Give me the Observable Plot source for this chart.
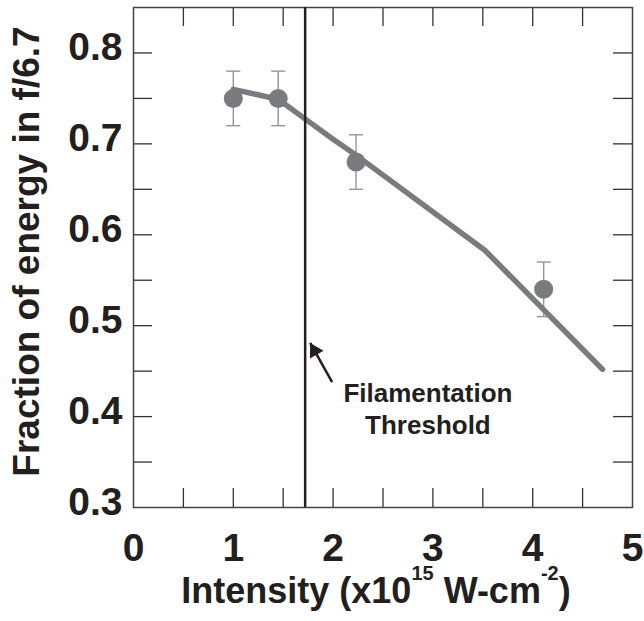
<!DOCTYPE html>
<html><head><meta charset="utf-8">
<script src="https://cdn.jsdelivr.net/npm/d3@7"></script>
<script src="https://cdn.jsdelivr.net/npm/@observablehq/plot@0.6"></script>
<style>body{margin:0;background:#fff} #chart svg{display:block}</style>
</head><body><div id="chart"></div>
<script>
// measured points with error bars
const pointIntensity = [1.0, 1.45, 2.23, 4.11];
const pointFraction  = [0.75, 0.75, 0.68, 0.54];
const pointErrLow    = [0.72, 0.72, 0.65, 0.51];
const pointErrHigh   = [0.78, 0.78, 0.71, 0.57];
// model curve
const curveIntensity = [1.0, 1.45, 1.75, 2.0, 2.25, 3.52, 4.7];
const curveFraction  = [0.76, 0.749, 0.725, 0.705, 0.686, 0.583, 0.452];
// threshold + annotation
const thresholdIntensity = [1.72];
const arrowFrom = [1.99, 0.438];
const arrowTo   = [1.77, 0.481];
const noteLines = ["Filamentation", "Threshold"];
const noteX = [2.95, 2.95];
const noteY = [0.425, 0.39];
// axes
const xTickLabels = [0, 1, 2, 3, 4, 5];
const yTickLabels = [0.3, 0.4, 0.5, 0.6, 0.7, 0.8];
const xMinorTicks = [0.5, 1, 1.5, 2, 2.5, 3, 3.5, 4, 4.5];
const yMinorTicks = [0.35, 0.4, 0.45, 0.5, 0.55, 0.6, 0.65, 0.7, 0.75, 0.8];
const xTitleParts = [
  {t: "Intensity (x10", sup: false},
  {t: "15", sup: true},
  {t: "\u00a0W-cm", sup: false},
  {t: "-2", sup: true},
  {t: ")", sup: false}
];
const yTitle = "Fraction of energy in f/6.7";

const points = pointIntensity.map((x, i) => ({x, y: pointFraction[i], lo: pointErrLow[i], hi: pointErrHigh[i]}));
const curve = curveIntensity.map((x, i) => ({x, y: curveFraction[i]}));
const notes = noteLines.map((t, i) => ({t, x: noteX[i], y: noteY[i]}));
const arrow = [{x1: arrowFrom[0], y1: arrowFrom[1], x2: arrowTo[0], y2: arrowTo[1]}];

const capSymbol = {draw(ctx, size) { const w = Math.sqrt(size / Math.PI); ctx.moveTo(-w, 0); ctx.lineTo(w, 0); }};

const W = 644, H = 621, mL = 133, mR = 12, mT = 7, mB = 114;
const plotH = H - mT - mB, plotW = W - mL - mR;
const ink = "#231f20", tickInk = "#333", gray = "#7a7b7e", errGray = "#959597";
const tickLen = 19;

const chart = Plot.plot({
  width: W, height: H,
  marginLeft: mL, marginRight: mR, marginTop: mT, marginBottom: mB,
  style: {fontFamily: "'Liberation Sans', Arial, Helvetica, sans-serif", color: ink, background: "#fff", overflow: "visible"},
  x: {domain: [0, 5], label: null},
  y: {domain: [0.3, 0.85], label: null},
  marks: [
    // inward ticks on all four sides
    Plot.tickX(xMinorTicks, {x: d => d, insetTop: plotH - tickLen, stroke: tickInk, strokeWidth: 1.3}),
    Plot.tickX(xMinorTicks, {x: d => d, insetBottom: plotH - tickLen, stroke: tickInk, strokeWidth: 1.3}),
    Plot.tickY(yMinorTicks, {y: d => d, insetRight: plotW - tickLen, stroke: tickInk, strokeWidth: 1.3}),
    Plot.tickY(yMinorTicks, {y: d => d, insetLeft: plotW - tickLen, stroke: tickInk, strokeWidth: 1.3}),
    Plot.frame({stroke: "#444", strokeWidth: 1.5}),
    // error bars
    Plot.link(points, {x1: "x", x2: "x", y1: "lo", y2: "hi", stroke: errGray, strokeWidth: 1.4}),
    Plot.dot(points, {x: "x", y: "lo", symbol: capSymbol, r: 7, stroke: errGray, strokeWidth: 1.4, fill: "none"}),
    Plot.dot(points, {x: "x", y: "hi", symbol: capSymbol, r: 7, stroke: errGray, strokeWidth: 1.4, fill: "none"}),
    // curve
    Plot.line(curve, {x: "x", y: "y", stroke: gray, strokeWidth: 5.5, strokeLinejoin: "round", strokeLinecap: "round"}),
    // points
    Plot.dot(points, {x: "x", y: "y", r: 9.5, fill: gray, stroke: "none"}),
    // threshold line
    Plot.ruleX(thresholdIntensity, {x: d => d, stroke: ink, strokeWidth: 2.5}),
    // arrow
    Plot.link(arrow, {x1: "x1", y1: "y1", x2: "x2", y2: "y2", stroke: ink, strokeWidth: 2.5}),
    Plot.dot([arrowTo], {x: d => d[0], y: d => d[1], symbol: "triangle", r: 5.8, rotate: -29.4, dx: 4.4, dy: 7.8, fill: ink, stroke: "none"}),
    // annotation text
    Plot.text(notes, {x: "x", y: "y", text: "t", fontSize: 26, fontWeight: "bold", fill: ink}),
    // tick labels
    Plot.axisX(xTickLabels, {tickSize: 0, tickPadding: 26, fontSize: 39, fontWeight: "bold", fill: ink, label: null}),
    Plot.axisY(yTickLabels, {tickSize: 0, tickPadding: 11, fontSize: 39, fontWeight: "bold", fill: ink, dy: -5, label: null, tickFormat: d => d.toFixed(1)})
  ]
});

document.getElementById("chart").appendChild(chart);

const svg = d3.select(chart);
// x axis title, superscripts as separate raised pieces
const xTitleCenter = 376, xTitleBase = 603, mainSize = 36, supSize = 20, supRise = 23;
const pieces = xTitleParts.map(p => svg.append("text")
  .attr("y", p.sup ? xTitleBase - supRise : xTitleBase)
  .attr("text-anchor", "start")
  .attr("font-size", p.sup ? supSize : mainSize)
  .attr("font-weight", "bold").attr("fill", ink)
  .style("white-space", "pre")
  .text(p.t));
const widths = pieces.map(s => s.node().getComputedTextLength());
let cx = xTitleCenter - d3.sum(widths) / 2;
pieces.forEach((s, i) => { s.attr("x", cx); cx += widths[i]; });
// y axis title
svg.append("text")
  .attr("transform", "translate(39,251.5) rotate(-90)")
  .attr("text-anchor", "middle")
  .attr("font-size", 37).attr("font-weight", "bold").attr("fill", ink)
  .text(yTitle);
</script>
</body></html>
